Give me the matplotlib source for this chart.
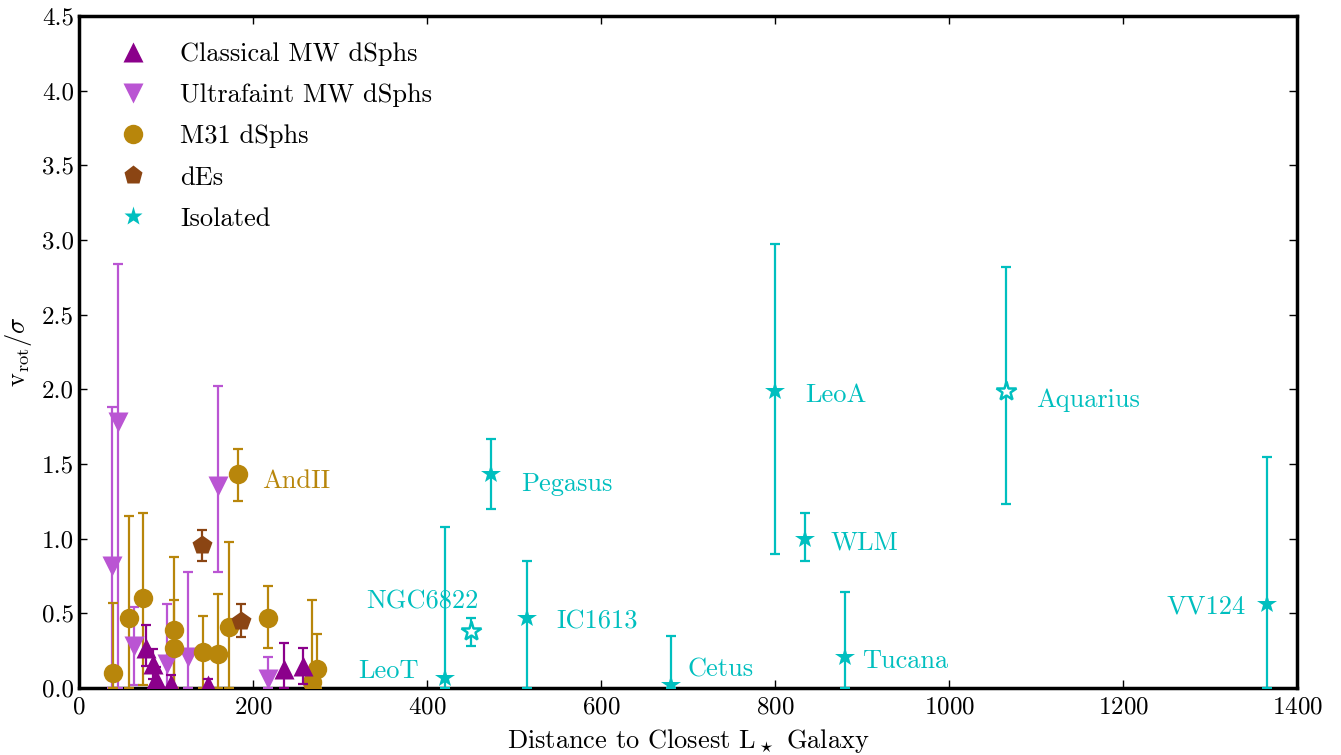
import numpy as np
import matplotlib
matplotlib.use('Agg')
from matplotlib import pyplot as plt

plt.rcParams['font.family'] = 'serif'
plt.rcParams['font.serif'] = ['cmr10']
plt.rcParams['mathtext.fontset'] = 'cm'
plt.rcParams['axes.formatter.use_mathtext'] = True

# distance to closest L* galaxy (kpc), v_rot/sigma, lower / upper errors
classical_d = [77, 85, 88, 106, 148, 236, 257]
classical_v = [0.27, 0.16, 0.06, 0.03, 0.02, 0.13, 0.15]
classical_lo = [0.12, 0.10, 0.06, 0.03, 0.02, 0.13, 0.12]
classical_hi = [0.15, 0.10, 0.08, 0.06, 0.04, 0.17, 0.12]

ultra_d = [38, 44.5, 63, 101, 125, 160, 217]
ultra_v = [0.82, 1.78, 0.28, 0.16, 0.21, 1.355, 0.06]
ultra_lo = [0.82, 1.78, 0.26, 0.16, 0.21, 0.575, 0.06]
ultra_hi = [1.06, 1.06, 0.26, 0.40, 0.57, 0.665, 0.15]

m31_d = [39, 57.5, 74, 109, 109, 143, 160, 173, 183, 217.6, 268, 274]
m31_v = [0.10, 0.47, 0.60, 0.39, 0.27, 0.24, 0.23, 0.41, 1.43, 0.47, 0.04, 0.13]
m31_lo = [0.10, 0.47, 0.58, 0.39, 0.27, 0.24, 0.23, 0.41, 0.18, 0.20, 0.04, 0.13]
m31_hi = [0.47, 0.68, 0.57, 0.49, 0.32, 0.24, 0.40, 0.57, 0.17, 0.21, 0.55, 0.23]

de_d = [141, 186]
de_v = [0.96, 0.45]
de_lo = [0.11, 0.11]
de_hi = [0.10, 0.11]

iso_names = ['LeoT', 'NGC6822', 'Pegasus', 'IC1613', 'Cetus', 'LeoA',
             'WLM', 'Tucana', 'Aquarius', 'VV124']
iso_d = [421, 451, 473, 515, 680, 800, 834, 881, 1065, 1365]
iso_v = [0.07, 0.38, 1.43, 0.47, 0.02, 1.99, 1.00, 0.21, 1.99, 0.56]
iso_lo = [0.07, 0.10, 0.23, 0.47, 0.02, 1.09, 0.15, 0.21, 0.76, 0.56]
iso_hi = [1.01, 0.09, 0.24, 0.38, 0.33, 0.98, 0.17, 0.43, 0.83, 0.99]
iso_open = [False, True, False, False, False, False, False, False, True, False]
# label offsets in points
iso_offsets = [(-63, 6.5), (-76, 23), (22, -5), (21, -1), (12, 13), (22, -1.5),
               (19, -1), (12, -1.5), (22, -5), (-72, 0)]

c_classical = '#8B008B'
c_ultra = '#BA55D3'
c_m31 = '#B8860B'
c_de = '#8B4513'
c_iso = '#00BFBF'

fig = plt.figure(figsize=(13.41, 7.55), dpi=100)
ax = fig.add_axes([0.0589, 0.0887, 0.9083, 0.8901])

eb = dict(linestyle='none', capsize=3.5, elinewidth=1.6, capthick=1.6)

ax.errorbar(classical_d, classical_v, yerr=[classical_lo, classical_hi],
            fmt='^', color=c_classical, ms=15, mec='none', zorder=4, **eb)
ax.errorbar(ultra_d, ultra_v, yerr=[ultra_lo, ultra_hi],
            fmt='v', color=c_ultra, ms=15, mec='none', zorder=3, **eb)
ax.errorbar(m31_d, m31_v, yerr=[m31_lo, m31_hi],
            fmt='o', color=c_m31, ms=14, mec='none', zorder=3, **eb)
ax.errorbar(de_d, de_v, yerr=[de_lo, de_hi],
            fmt='p', color=c_de, ms=15, mec='none', zorder=3, **eb)
ax.errorbar(iso_d, iso_v, yerr=[iso_lo, iso_hi], fmt='none', color=c_iso,
            zorder=3, **eb)
for d, v, op in zip(iso_d, iso_v, iso_open):
    ax.plot(d, v, '*', ms=15, mfc='white' if op else c_iso, mec=c_iso,
            mew=1.8 if op else 0, zorder=4)

for name, d, v, off in zip(iso_names, iso_d, iso_v, iso_offsets):
    ax.annotate(name, (d, v), xytext=off, textcoords='offset points',
                color=c_iso, fontsize=19, va='center_baseline')
ax.annotate('AndII', (m31_d[8], m31_v[8]), xytext=(17, -3),
            textcoords='offset points', color=c_m31, fontsize=19,
            va='center_baseline')

# legend proxies
ax.plot([], [], '^', color=c_classical, ms=15, mec='none', label='Classical MW dSphs')
ax.plot([], [], 'v', color=c_ultra, ms=15, mec='none', label='Ultrafaint MW dSphs')
ax.plot([], [], 'o', color=c_m31, ms=14, mec='none', label='M31 dSphs')
ax.plot([], [], 'p', color=c_de, ms=14, mec='none', label='dEs')
ax.plot([], [], '*', color=c_iso, ms=14, mec='none', label='Isolated')
ax.legend(loc='upper left', bbox_to_anchor=(-0.0014, 1.004), frameon=False,
          fontsize=19, numpoints=1, handletextpad=0.8, labelspacing=0.66,
          borderaxespad=0.7)

ax.set_xlim(0, 1400)
ax.set_ylim(0, 4.5)
ax.set_xticks(np.arange(0, 1401, 200))
ax.set_yticks(np.arange(0, 4.51, 0.5))
ax.set_yticklabels(['%.1f' % t for t in np.arange(0, 4.51, 0.5)])
ax.tick_params(direction='in', top=True, right=True, length=6, width=1,
               labelsize=18)
ax.tick_params(axis='x', pad=6)
for sp in ax.spines.values():
    sp.set_linewidth(2.5)

ax.set_xlabel(r'Distance to Closest L$_\star$ Galaxy', fontsize=19, labelpad=6)
ax.set_ylabel(r'$\mathrm{v_{rot}}/\sigma$', fontsize=19, labelpad=6)

plt.savefig('out.png', dpi=100)
